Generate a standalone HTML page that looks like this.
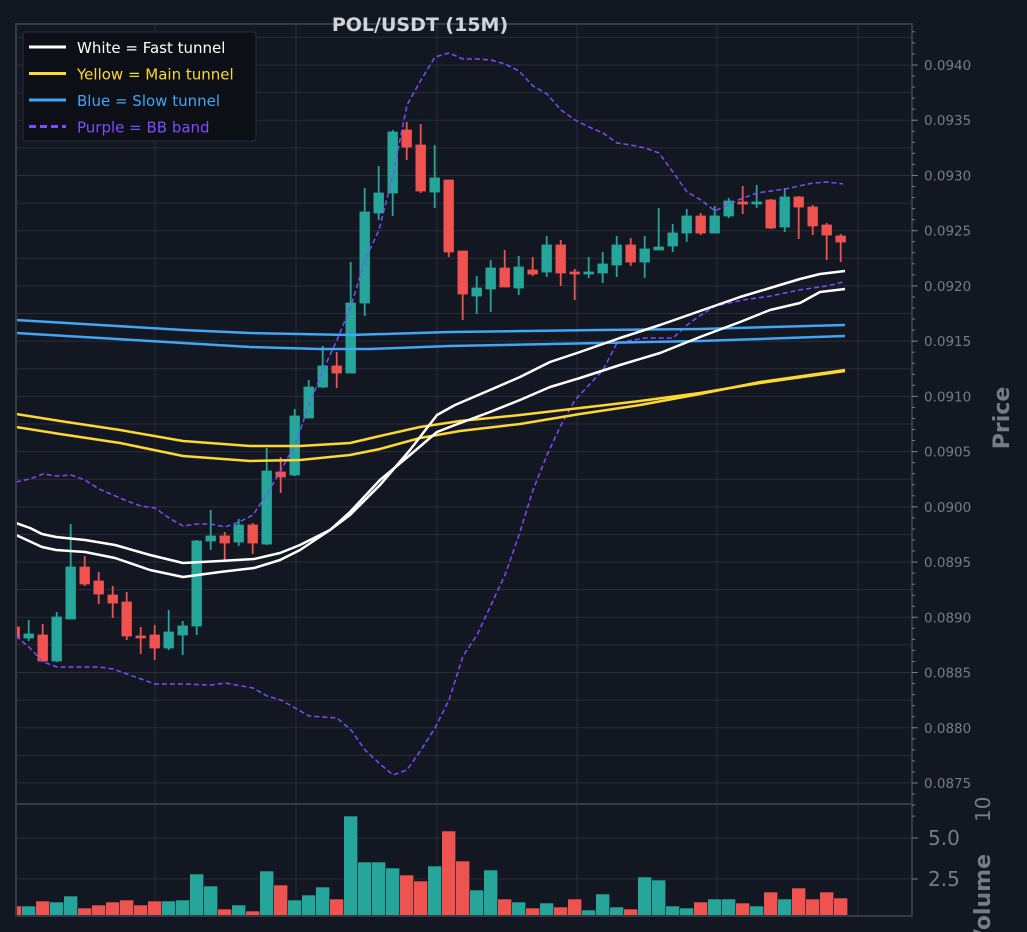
<!DOCTYPE html><html><head><meta charset="utf-8"><style>
html,body{margin:0;padding:0;background:#131722;}
svg{display:block;font-family:"DejaVu Sans","Liberation Sans",sans-serif;}
</style></head><body>
<svg id="s" width="1027" height="932" xmlns="http://www.w3.org/2000/svg"></svg>
<script>
const S=document.getElementById('s');let h='';
h+='<rect width="1027" height="932" fill="#131722"/>';
const yp=p=>65+(0.0940-p)/0.0005*55.23;
for(let p=0.0870;p<=0.0945;p+=0.00025){const y=yp(p);if(y<24||y>804)continue;h+=`<line x1="16" x2="912" y1="${y}" y2="${y}" stroke="${Math.abs(p*20000-Math.round(p*20000))<1e-6?'#2a2e39':'#1e222d'}" stroke-width="1"/>`;}
[155,296,437,577,717,858].forEach(x=>{h+=`<line x1="${x}" x2="${x}" y1="24" y2="916" stroke="#2a2e39"/>`;});
[838,879].forEach(y=>{h+=`<line x1="16" x2="912" y1="${y}" y2="${y}" stroke="#2a2e39"/>`;});
const C=[['r',627,638,627,638],['g',634,638,620,641],['r',635,661,624,662],['g',617,661,612,662],['g',567,619,524,619],['r',567,584,556,586],['r',581,594,572,604],['r',595,603,586,618],['r',602,636,592,640],['r',636,637,627,654],['r',635,648,625,660],['g',632,648,610,650],['g',626,635,621,655],['g',541,626,540,635],['g',536,541,510,550],['r',536,543,532,560],['g',525,542,519,546],['r',525,543,523,554],['g',471,544,448,545],['r',472,477,457,493],['g',416,475,409,476],['g',387,418,380,418],['g',366,387,346,388],['r',366,373,352,388],['g',303,373,262,373],['g',212,303,188,316],['g',193,213,166,220],['g',132,193,130,216],['r',130,147,122,160],['r',145,191,124,193],['g',178,192,145,208],['r',180,252,180,257],['r',251,294,251,320],['g',288,296,276,314],['g',268,289,260,312],['r',268,287,250,286],['g',267,288,256,295],['r',270,274,257,276],['g',245,272,236,277],['r',245,273,240,286],['r',272,273,269,300],['g',272,273,257,278],['g',264,273,252,283],['g',245,265,236,277],['r',245,262,238,266],['g',249,262,236,278],['g',247,250,208,250],['g',233,246,224,252],['g',216,233,209,242],['r',216,233,213,235],['g',216,233,206,233],['g',201,216,198,218],['r',202,203,186,214],['g',202,203,185,208],['r',200,228,199,229],['g',197,227,188,232],['r',197,207,196,239],['r',207,226,205,235],['r',225,235,223,260],['r',236,242,234,262]];
const V=[906,906,901,902,896,908,905,902,900,905,901,901,900,874,886,909,905,911,871,885,900,895,887,899,816,862,862,868,875,881,866,831,861,890,870,899,902,908,903,907,899,910,894,907,909,877,880,906,908,902,899,899,903,906,892,899,888,899,892,898];
const col=c=>c=='g'?'#26a69a':'#ef5350';
h+='<defs><clipPath id="cp"><rect x="16" y="24" width="896" height="892"/></clipPath></defs><g clip-path="url(#cp)">';
C.forEach((c,i)=>{const x=14.7+14*i,f=col(c[0]);
h+=`<line x1="${x}" x2="${x}" y1="${c[3]}" y2="${c[4]}" stroke="${f}" stroke-width="1.8"/>`;
h+=`<rect x="${x-4.8}" y="${c[1]}" width="9.6" height="${Math.max(2,c[2]-c[1])}" fill="${f}" stroke="${f}" stroke-width="0.8"/>`;
h+=`<rect x="${x-7}" y="${V[i]}" width="14" height="${916-V[i]}" fill="${f}" stroke="#131722" stroke-width="0.6"/>`;});
const pl=(pts,c,w,d)=>{h+=`<polyline fill="none" stroke="${c}" stroke-width="${w}" ${d?'stroke-dasharray="5,3"':''} stroke-linejoin="round" points="${pts.map(p=>p.join(',')).join(' ')}"/>`;};
pl([[16,482],[30,479],[43,474],[57,476],[71,475],[85,480],[99,489],[113,495],[127,501],[141,506],[155,508],[169,518],[183,526],[197,524],[211,524],[225,527],[239,522],[253,515],[267,494],[281,470],[295,445],[309,405],[323,370],[337,340],[351,306],[365,260],[379,230],[393,175],[407,105],[421,80],[435,57],[449,53],[463,59],[477,59],[491,60],[505,64],[519,71],[533,86],[547,94],[561,110],[575,120],[589,127],[603,133],[617,143],[631,145],[645,148],[659,153],[673,172],[687,192],[701,200],[715,211],[729,204],[743,198],[757,193],[771,191],[785,189],[799,186],[813,183],[827,182],[843,184]],'#7c4dff',1.5,1);
pl([[16,636],[30,648],[43,662],[57,667],[99,667],[113,669],[127,674],[155,684],[183,684],[211,685],[225,683],[253,688],[267,696],[281,700],[309,716],[337,718],[351,730],[365,750],[379,763],[393,775],[407,770],[421,750],[435,728],[449,700],[463,656],[477,635],[491,605],[505,575],[519,535],[533,490],[547,455],[561,425],[575,400],[589,385],[603,370],[617,343],[645,338],[673,338],[687,325],[701,315],[715,306],[729,303],[743,300],[771,296],[799,290],[827,286],[843,282]],'#7c4dff',1.5,1);
pl([[16,320],[100,325],[183,330],[250,333],[350,335],[450,332],[600,330],[700,329],[845,325]],'#42a5f5',2.5);
pl([[16,333],[100,338],[183,343],[250,347],[320,349],[370,349],[450,346],[600,343],[700,341],[845,336]],'#42a5f5',2.5);
pl([[16,414],[60,421],[120,430],[183,441],[250,446],[300,446],[350,443],[380,436],[420,427],[460,421],[520,415],[580,408],[640,401],[700,393],[760,383],[845,371]],'#fdd835',2.5);
pl([[16,427],[60,434],[120,443],[183,456],[250,461],[300,460],[350,455],[380,449],[420,438],[460,431],[520,424],[580,414],[640,405],[700,394],[760,382],[845,370]],'#fdd835',2.5);
pl([[16,523],[30,528],[42,534],[56,537],[85,540],[115,545],[150,555],[183,563],[220,561],[254,559],[280,553],[300,545],[330,530],[350,515],[380,485],[410,450],[437,415],[455,405],[490,390],[520,377],[550,362],[580,352],[620,338],[660,325],[700,311],[740,297],[770,288],[800,279],[820,274],[845,271]],'#ffffff',2.5);
pl([[16,535],[42,547],[56,550],[85,552],[115,558],[150,570],[183,577],[220,572],[254,568],[280,560],[300,550],[330,530],[350,512],[380,480],[410,455],[437,432],[455,425],[490,412],[520,400],[550,387],[580,378],[620,365],[660,353],[700,337],[740,322],[770,310],[800,303],[820,292],[845,289]],'#ffffff',2.5);
h+='</g>';
h+='<rect x="16" y="24" width="896" height="780" fill="none" stroke="#363a45" stroke-width="2"/>';
h+='<rect x="16" y="804" width="896" height="112" fill="none" stroke="#363a45" stroke-width="2"/>';
for(let k=0;k<=13;k++){const p=0.0875+k*0.0005,y=yp(p);h+=`<line x1="912" x2="918" y1="${y}" y2="${y}" stroke="#787b86"/><text x="924" y="${y+5}" font-size="13.5" fill="#787b86">${p.toFixed(4)}</text>`;}
for(let p=0.0872;p<0.0944;p+=0.0001){const y=yp(p);if(y<26)continue;h+=`<line x1="912" x2="915" y1="${y}" y2="${y}" stroke="#787b86"/>`;}
[[838,'5.0'],[879,'2.5']].forEach(([y,t])=>{h+=`<line x1="912" x2="918" y1="${y}" y2="${y}" stroke="#787b86"/><text x="928" y="${y+7}" font-size="20" fill="#787b86">${t}</text>`;});
h+='<text transform="translate(1009,418) rotate(-90)" text-anchor="middle" font-size="22" font-weight="bold" fill="#787b86">Price</text>';
h+='<text transform="translate(990,900) rotate(-90)" text-anchor="middle" font-size="22" font-weight="bold" fill="#787b86">Volume</text>';
h+='<text transform="translate(990,822) rotate(-90)" font-size="20" fill="#787b86">10</text>';
h+='<text x="420" y="31" text-anchor="middle" font-size="19" font-weight="bold" fill="#d1d4dc">POL/USDT (15M)</text>';
h+='<rect x="23" y="32" width="233" height="109" rx="3" fill="#0c0f15" stroke="#2a2e39"/>';
[['#ffffff','White = Fast tunnel',0],['#fdd835','Yellow = Main tunnel',0],['#42a5f5','Blue = Slow tunnel',0],['#7c4dff','Purple = BB band',1]].forEach(([c,t,d],i)=>{const y=47+i*26.5;
h+=`<line x1="29" x2="66" y1="${y}" y2="${y}" stroke="${c}" stroke-width="3" ${d?'stroke-dasharray="7,4"':''}/><text x="77" y="${y+6}" font-size="15" fill="${c}">${t}</text>`;});
S.innerHTML=h;
</script>
</body></html>
